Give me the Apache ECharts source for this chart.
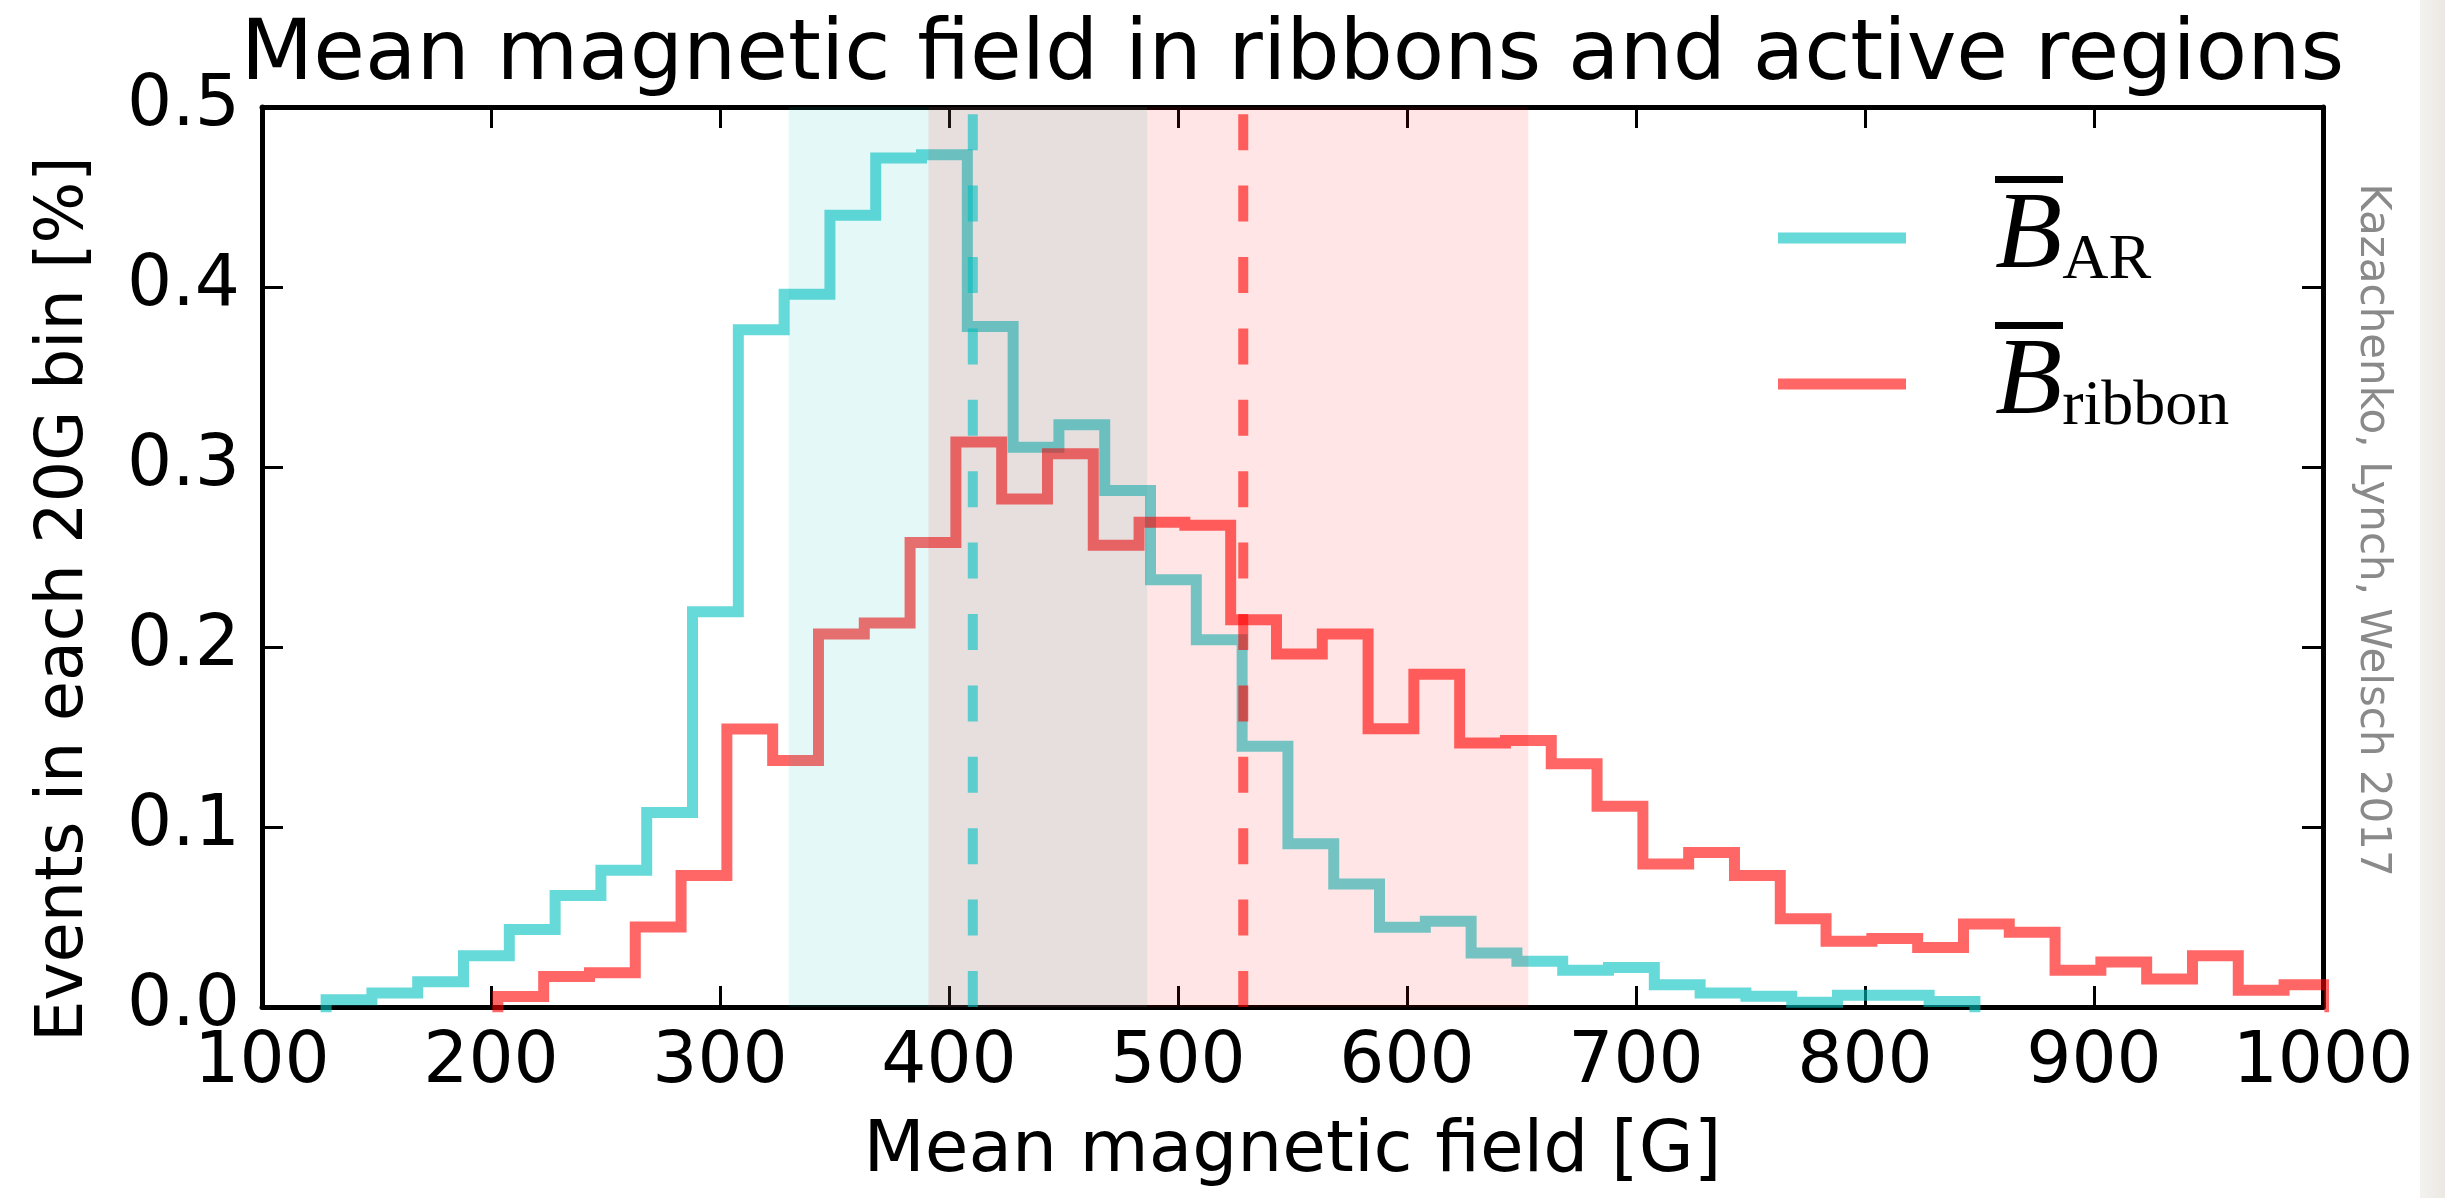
<!DOCTYPE html>
<html>
<head>
<meta charset="utf-8">
<script src="https://cdn.jsdelivr.net/npm/echarts@6/dist/echarts.min.js"></script>
<style>
html, body { margin: 0; padding: 0; background: #fff; }
#chart { width: 2445px; height: 1198px; }
</style>
</head>
<body>
<div id="chart"></div>
<script>
// ---- data ----
const titleText = 'Mean magnetic field in ribbons and active regions';
const xAxisName = 'Mean magnetic field [G]';
const yAxisName = 'Events in each 20G bin [%]';
const creditText = 'Kazachenko, Lynch, Welsch 2017';
const xTicks = [100, 200, 300, 400, 500, 600, 700, 800, 900, 1000];
const yTicks = [0.0, 0.1, 0.2, 0.3, 0.4, 0.5];
const binWidth = 20;
const arBinStart = 128;
const arValues = [0.004, 0.0078, 0.014, 0.0285, 0.043, 0.062, 0.076, 0.108, 0.2196, 0.3763,
  0.396, 0.4398, 0.4717, 0.4735, 0.378, 0.311, 0.3235, 0.287, 0.2374, 0.204,
  0.1448, 0.0907, 0.0683, 0.0443, 0.0476, 0.030, 0.0254, 0.0204, 0.022, 0.0124,
  0.0078, 0.006, 0.0026, 0.0065, 0.0065, 0.003];
const ribbonBinStart = 203;
const ribbonValues = [0.0059, 0.017, 0.019, 0.0444, 0.073, 0.1544, 0.1369, 0.2072, 0.2133, 0.2581,
  0.3139, 0.2822, 0.3074, 0.2565, 0.2693, 0.2676, 0.2152, 0.1961, 0.2072, 0.1546,
  0.1848, 0.1467, 0.148, 0.1352, 0.1115, 0.0794, 0.0859, 0.073, 0.049, 0.0365,
  0.038, 0.0331, 0.0461, 0.0415, 0.0204, 0.025, 0.0156, 0.0285, 0.0093, 0.0124];
const meanAR = 410.4;
const meanRibbon = 528.5;
const bandAR = [330, 486.5];
const bandRibbon = [391, 653];

// ---- helpers ----
function stepPoints(start, values) {
  const pts = [[start, 0]];
  values.forEach((v, i) => {
    pts.push([start + i * binWidth, v]);
    pts.push([start + (i + 1) * binWidth, v]);
  });
  pts.push([start + values.length * binWidth, 0]);
  return pts;
}
const xMin = xTicks[0], xMax = xTicks[xTicks.length - 1];
const yMin = yTicks[0], yMax = yTicks[yTicks.length - 1];

const FONT = '"DejaVu Sans", sans-serif';
const cyanLine = 'rgba(0,191,191,0.6)';
const redLine = 'rgba(255,0,0,0.6)';
const cyanBand = 'rgba(0,191,191,0.1)';
const redBand = 'rgba(255,0,0,0.1)';

const gridLeft = 262, gridRight = 122, gridTop = 107, gridBottom = 191;
const plotCenterX = gridLeft + (2445 - gridLeft - gridRight) / 2;

const titleSize = 84;
const mctx = document.createElement('canvas').getContext('2d');
mctx.font = titleSize + 'px "DejaVu Sans"';
const titleW = mctx.measureText(titleText).width;

function bandSeries(name, range, color) {
  return {
    name: name, type: 'custom', z: 3, clip: true, silent: true,
    data: [[range[0], range[1]]],
    renderItem: function (params, api) {
      const p0 = api.coord([api.value(0), yMax]);
      const p1 = api.coord([api.value(1), yMin]);
      return { type: 'rect', shape: { x: p0[0], y: p0[1], width: p1[0] - p0[0], height: p1[1] - p0[1] }, style: { fill: color } };
    }
  };
}

const tickStyle = { show: true, inside: true, length: 21, lineStyle: { color: '#000', width: 3 } };
const axisLineStyle = { show: true, onZero: false, lineStyle: { color: '#000', width: 5 } };

const legendRich = {
  sp: { width: 84, lineHeight: 7, fontSize: 6, height: 7 },
  ov: { width: 68, height: 7, lineHeight: 7, fontSize: 6, backgroundColor: '#000', verticalAlign: 'bottom' },
  B: { fontFamily: '"Liberation Serif", serif', fontStyle: 'italic', fontSize: 110, lineHeight: 110, verticalAlign: 'bottom', color: '#000' },
  sub: { fontFamily: '"Liberation Serif", serif', fontSize: 64, lineHeight: 52, verticalAlign: 'bottom', color: '#000' }
};

const chart = echarts.init(document.getElementById('chart'), null, { renderer: 'canvas' });
chart.setOption({
  animation: false,
  backgroundColor: '#ffffff',
  textStyle: { fontFamily: FONT },
  title: {
    text: titleText,
    left: plotCenterX - titleW / 2,
    top: 15,
    padding: 0,
    textStyle: { fontFamily: FONT, fontSize: titleSize, fontWeight: 'normal', color: '#000' }
  },
  grid: { left: gridLeft, right: gridRight, top: gridTop, bottom: gridBottom, containLabel: false },
  legend: {
    orient: 'vertical',
    left: 1778,
    top: 176,
    padding: 0,
    itemGap: 22,
    itemWidth: 128,
    itemHeight: 11,
    icon: 'rect',
    data: ['AR', 'ribbon'],
    formatter: function (name) {
      return '{sp|}{ov|}\n{sp|}{B|B}{sub|' + name + '}\n{sp|}';
    },
    textStyle: { rich: legendRich, fontSize: 6, lineHeight: 7 }
  },
  xAxis: [{
    type: 'value', position: 'bottom', min: xMin, max: xMax, interval: 100,
    name: xAxisName, nameLocation: 'middle', nameGap: 110,
    nameTextStyle: { fontFamily: FONT, fontSize: 71, color: '#000' },
    axisLine: axisLineStyle, axisTick: tickStyle, splitLine: { show: false },
    axisLabel: { show: true, fontFamily: FONT, fontSize: 71, color: '#000', margin: 21, formatter: v => String(v), showMinLabel: true, showMaxLabel: true, hideOverlap: false }
  }, {
    type: 'value', position: 'top', min: xMin, max: xMax, interval: 100,
    axisLine: axisLineStyle, axisTick: tickStyle, splitLine: { show: false }, axisLabel: { show: false }
  }],
  yAxis: [{
    type: 'value', position: 'left', min: yMin, max: yMax, interval: 0.1,
    name: yAxisName, nameLocation: 'middle', nameGap: 164, nameRotate: 90,
    nameTextStyle: { fontFamily: FONT, fontSize: 65, color: '#000', padding: [0, 84, 0, 0] },
    axisLine: axisLineStyle, axisTick: tickStyle, splitLine: { show: false },
    axisLabel: { show: true, fontFamily: FONT, fontSize: 71, color: '#000', margin: 22, formatter: v => v.toFixed(1), showMinLabel: true, showMaxLabel: true }
  }, {
    type: 'value', position: 'right', min: yMin, max: yMax, interval: 0.1,
    axisLine: axisLineStyle, axisTick: tickStyle, splitLine: { show: false }, axisLabel: { show: false }
  }],
  series: [
    {
      name: 'AR', type: 'line', z: 2, data: stepPoints(arBinStart, arValues),
      showSymbol: false, symbol: 'none', color: cyanLine, clip: true,
      itemStyle: { color: cyanLine },
      lineStyle: { color: cyanLine, width: 11, cap: 'square', join: 'miter' }
    },
    {
      name: 'ribbon', type: 'line', z: 2, data: stepPoints(ribbonBinStart, ribbonValues),
      showSymbol: false, symbol: 'none', color: redLine, clip: true,
      itemStyle: { color: redLine },
      lineStyle: { color: redLine, width: 11, cap: 'square', join: 'miter' }
    },
    bandSeries('bandAR', bandAR, cyanBand),
    bandSeries('bandRibbon', bandRibbon, redBand),
    {
      name: 'meanAR', type: 'line', z: 4, data: [[meanAR, yMin], [meanAR, yMax]],
      showSymbol: false, symbol: 'none', silent: true,
      lineStyle: { color: cyanLine, width: 10, type: [36, 35.4], cap: 'butt' }
    },
    {
      name: 'meanRibbon', type: 'line', z: 4, data: [[meanRibbon, yMin], [meanRibbon, yMax]],
      showSymbol: false, symbol: 'none', silent: true,
      lineStyle: { color: redLine, width: 10, type: [36, 35.4], cap: 'butt' }
    }
  ],
  graphic: [
    {
      type: 'rect', left: 2420, top: 0, z: -10, silent: true,
      shape: { width: 25, height: 1198 },
      style: { fill: new echarts.graphic.LinearGradient(0, 0, 1, 0, [{ offset: 0, color: '#f4f2ef' }, { offset: 1, color: '#ebe8e3' }]) }
    },
    {
      type: 'text', x: 2372, y: 530, rotation: -Math.PI / 2, silent: true,
      style: { text: creditText, font: '42px "DejaVu Sans"', fill: '#8a8a8a', align: 'center', verticalAlign: 'middle' }
    }
  ]
});
</script>
</body>
</html>
